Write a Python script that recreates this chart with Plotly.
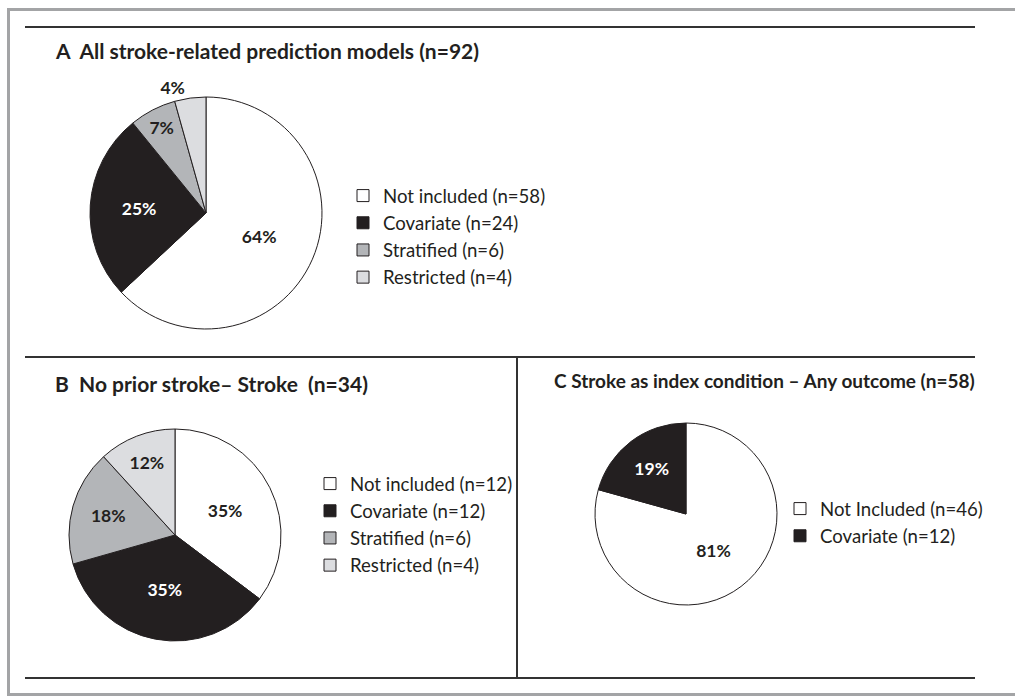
import plotly.graph_objects as go

W, H = 1015, 696

# ---- data ----
a_labels = ["Not included (n=58)", "Covariate (n=24)", "Stratified (n=6)", "Restricted (n=4)"]
a_counts = [58, 24, 6, 4]
a_pct = ["64%", "25%", "7%", "4%"]

b_labels = ["Not included (n=12)", "Covariate (n=12)", "Stratified (n=6)", "Restricted (n=4)"]
b_counts = [12, 12, 6, 4]
b_pct = ["35%", "35%", "18%", "12%"]

c_labels = ["Not Included (n=46)", "Covariate (n=12)"]
c_counts = [46, 12]
c_pct = ["81%", "19%"]

titles = [
    "A\u00a0\u00a0All stroke-related prediction models (n=92)",
    "B\u00a0\u00a0No prior stroke\u2013 Stroke\u00a0\u00a0(n=34)",
    "C\u00a0Stroke as index condition \u2013 Any outcome (n=58)",
]

# ---- style ----
FONT = "Lato, Carlito, Calibri, 'Open Sans', sans-serif"
INK = "#231f20"
fill4 = ["#ffffff", INK, "#b3b5b8", "#dcdde0"]
txt4 = [INK, "#ffffff", INK, INK]
PCT_SIZE = 17.5


def px(x):
    return x / W


def py(y):
    return 1 - y / H


def dom(cx, cy, r):
    return dict(x=[px(cx - r), px(cx + r)], y=[py(cy + r), py(cy - r)])


fig = go.Figure()

fig.add_trace(go.Pie(
    labels=a_labels, values=a_counts, text=a_pct, textinfo="text",
    texttemplate="%{text}", sort=False, direction="clockwise", rotation=0,
    marker=dict(colors=fill4, line=dict(color=INK, width=1)),
    textposition=["inside", "inside", "inside", "outside"],
    insidetextorientation="horizontal",
    insidetextfont=dict(family=FONT, size=PCT_SIZE, color=txt4, weight="bold"),
    outsidetextfont=dict(family=FONT, size=PCT_SIZE, color=INK, weight="bold"),
    domain=dom(206, 213, 116), legend="legend", legendgroup="A",
    hoverinfo="label+value",
))

fig.add_trace(go.Pie(
    labels=b_labels, values=b_counts, text=b_pct, textinfo="text",
    texttemplate="%{text}", sort=False, direction="clockwise", rotation=0,
    marker=dict(colors=fill4, line=dict(color=INK, width=1)),
    textposition="inside", insidetextorientation="horizontal",
    insidetextfont=dict(family=FONT, size=PCT_SIZE, color=txt4, weight="bold"),
    domain=dom(175, 535, 106), legend="legend2", legendgroup="B",
    hoverinfo="label+value",
))

fig.add_trace(go.Pie(
    labels=c_labels, values=c_counts, text=c_pct, textinfo="text",
    texttemplate="%{text}", sort=False, direction="clockwise", rotation=0,
    marker=dict(colors=fill4[:2], line=dict(color=INK, width=1)),
    textposition="inside", insidetextorientation="horizontal",
    insidetextfont=dict(family=FONT, size=PCT_SIZE, color=txt4[:2], weight="bold"),
    domain=dom(686, 514, 91), legend="legend3", legendgroup="C",
    hoverinfo="label+value",
))

leg_common = dict(xanchor="left", yanchor="top", bgcolor="rgba(0,0,0,0)",
                  borderwidth=0, font=dict(family=FONT, size=18.6, color=INK))

# ---- frame and panel rules ----
shapes = []
grey = "#a3a4a6"
shapes.append(dict(type="line", xref="paper", yref="paper", x0=px(8.5), x1=px(8.5), y0=py(9), y1=py(695), line=dict(color=grey, width=3)))
shapes.append(dict(type="line", xref="paper", yref="paper", x0=px(7), x1=1, y0=py(9.5), y1=py(9.5), line=dict(color=grey, width=3)))
shapes.append(dict(type="line", xref="paper", yref="paper", x0=px(7), x1=1, y0=py(694.5), y1=py(694.5), line=dict(color=grey, width=3)))
for yy in (27, 357, 678):
    shapes.append(dict(type="line", xref="paper", yref="paper", x0=px(25), x1=px(975), y0=py(yy), y1=py(yy), line=dict(color="#333333", width=2)))
shapes.append(dict(type="line", xref="paper", yref="paper", x0=px(517), x1=px(517), y0=py(357), y1=py(678), line=dict(color="#333333", width=2)))

annotations = []
for t, (xx, yy), fs in zip(titles, [(53, 50), (53, 383), (552, 380)], [21, 21, 19]):
    annotations.append(dict(text=t, xref="paper", yref="paper", x=px(xx), y=py(yy),
                            xanchor="left", yanchor="middle", showarrow=False,
                            font=dict(family=FONT, size=fs, color=INK, weight="bold")))

fig.update_layout(
    width=W, height=H, margin=dict(l=0, r=0, t=0, b=0),
    paper_bgcolor="white", plot_bgcolor="white",
    shapes=shapes, annotations=annotations,
    legend=dict(x=px(343), y=py(177), **leg_common),
    legend2=dict(x=px(310), y=py(465), **leg_common),
    legend3=dict(x=px(780), y=py(490), **leg_common),
)

fig.write_html("out.html", config={"displayModeBar": False},
               post_script="document.body.style.margin='0';document.body.style.overflow='hidden';")
